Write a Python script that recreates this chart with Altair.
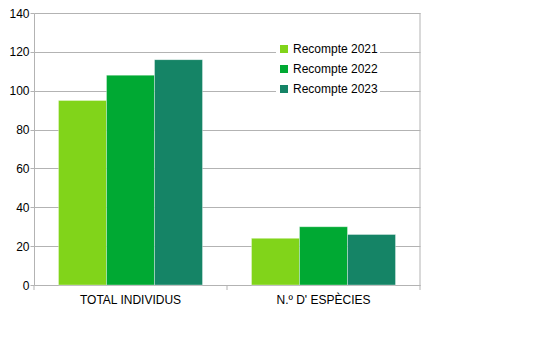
import altair as alt
import pandas as pd

categories = ["TOTAL INDIVIDUS", "N.º D' ESPÈCIES"]
series = ["Recompte 2021", "Recompte 2022", "Recompte 2023"]
values_2021 = [95, 24]
values_2022 = [108, 30]
values_2023 = [116, 26]
colors = ["#81d41a", "#00a933", "#158466"]

rows = []
for i, c in enumerate(categories):
    for s, vals in zip(series, [values_2021, values_2022, values_2023]):
        rows.append({"cat": c, "serie": s, "val": vals[i]})
df = pd.DataFrame(rows)

W, H = 386, 272
font = "Liberation Sans"

bars = alt.Chart(df).mark_bar(stroke="#ffffff", strokeOpacity=0.35, strokeWidth=1).encode(
    x=alt.X("cat:N", sort=categories, title=None,
            scale=alt.Scale(paddingInner=0, paddingOuter=0),
            axis=alt.Axis(labelAngle=0, ticks=False, domainColor="#b3b3b3",
                          labelFontSize=12, labelColor="#000000", labelFont=font,
                          labelPadding=9, grid=False)),
    xOffset=alt.XOffset("serie:N", sort=series,
                        scale=alt.Scale(paddingInner=0, paddingOuter=0.51)),
    y=alt.Y("val:Q", title=None,
            scale=alt.Scale(domain=[0, 140], nice=False),
            axis=alt.Axis(values=[0, 20, 40, 60, 80, 100, 120, 140], gridColor="#b3b3b3",
                          domainColor="#b3b3b3", tickColor="#b3b3b3", tickSize=4,
                          labelFontSize=12, labelColor="#000000", labelFont=font,
                          labelPadding=1)),
    color=alt.Color("serie:N", sort=series,
                    scale=alt.Scale(domain=series, range=colors),
                    legend=alt.Legend(title=None, orient="none", legendX=242, legendY=28,
                                      symbolType="square", symbolSize=64,
                                      symbolStrokeWidth=0, labelFontSize=12,
                                      labelFont=font, labelColor="#000000",
                                      rowPadding=8, fillColor="#ffffff", padding=2,
                                      labelOffset=3)),
)

right = alt.Chart(pd.DataFrame({"a": [0]})).mark_rule(color="#b3b3b3").encode(
    x=alt.value(W), y=alt.value(0), y2=alt.value(H + 5)
)
tick_mid = alt.Chart(pd.DataFrame({"a": [0]})).mark_rule(color="#b3b3b3").encode(
    x=alt.value(W / 2), y=alt.value(H), y2=alt.value(H + 5)
)
tick_left = alt.Chart(pd.DataFrame({"a": [0]})).mark_rule(color="#b3b3b3").encode(
    x=alt.value(0), y=alt.value(H), y2=alt.value(H + 5)
)

chart = alt.layer(bars, right, tick_mid, tick_left).properties(
    width=W, height=H,
    padding={"left": 26, "top": 5, "right": 20, "bottom": 40},
    autosize=alt.AutoSizeParams(type="none"),
).configure_view(stroke=None).configure_axis(domainWidth=1)

chart.save("out.html", embed_options={"renderer": "svg", "actions": False})
